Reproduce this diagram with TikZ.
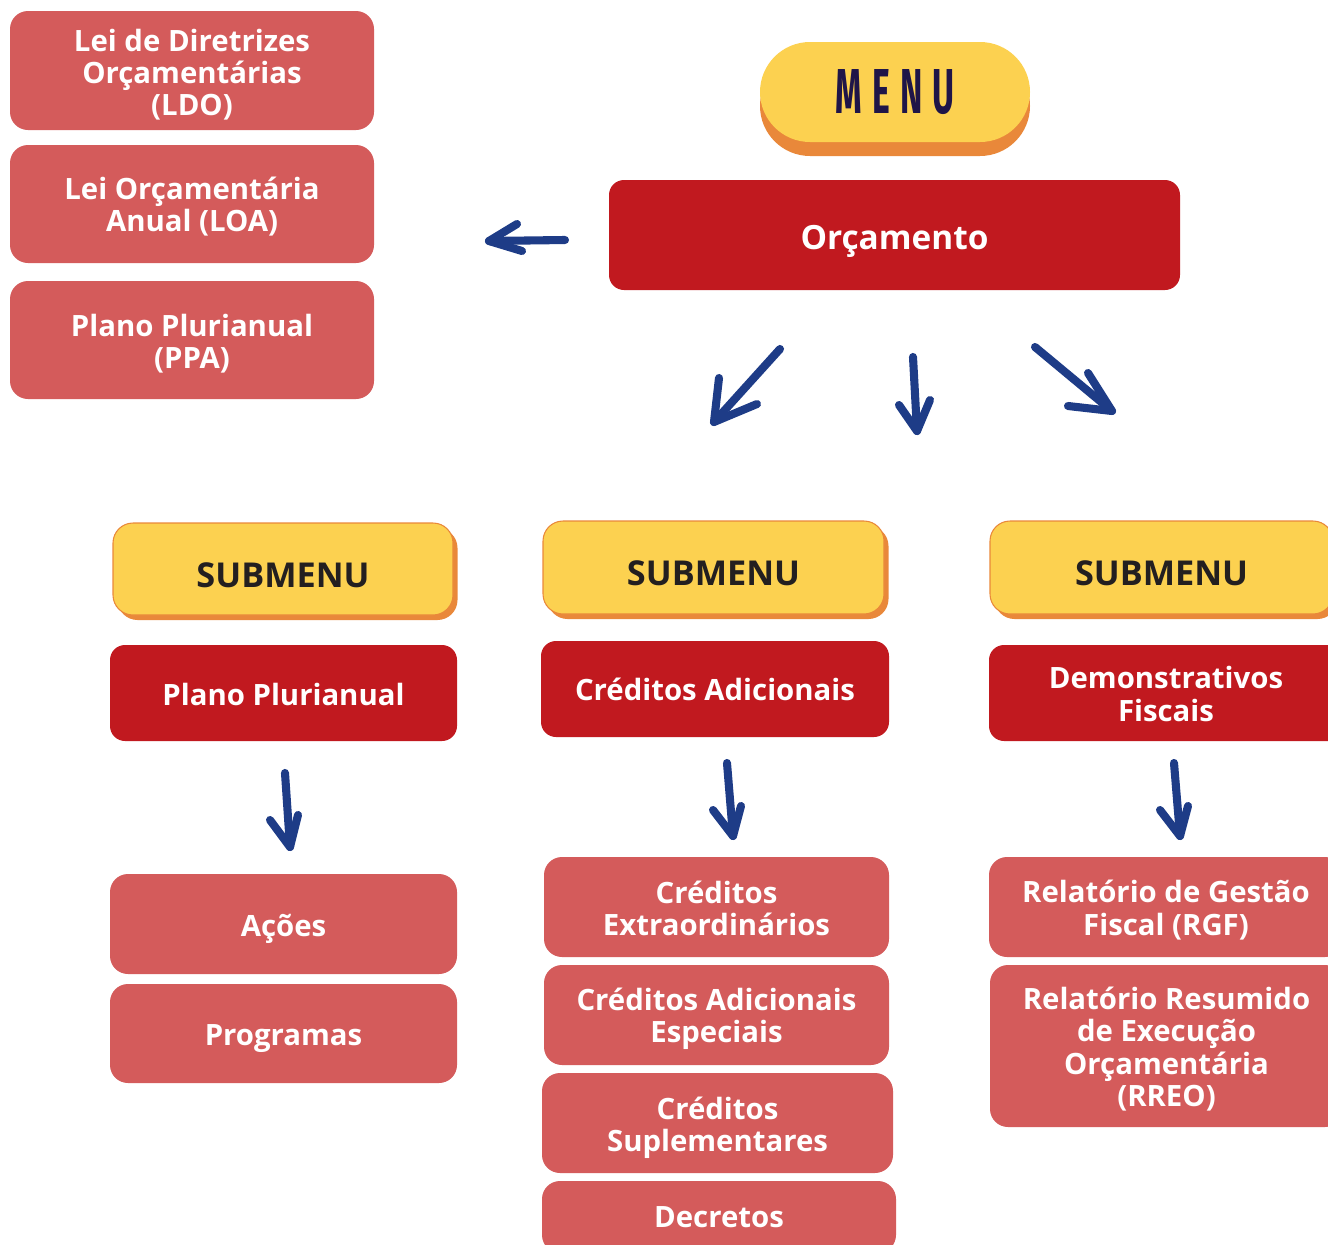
\documentclass[tikz,border=0pt]{standalone}
\usepackage{fontspec}
\setmainfont{Open Sans}
\newfontfamily\menufont[LetterSpace=30]{Fira Sans}
\usetikzlibrary{shadows}

\definecolor{darkred}{HTML}{C1191F}
\definecolor{lightred}{HTML}{D45B5B}
\definecolor{menuyellow}{HTML}{FCD150}
\definecolor{menuorange}{HTML}{E9883A}
\definecolor{arrowblue}{HTML}{1E3C87}
\definecolor{menuink}{HTML}{1F1548}
\definecolor{subink}{HTML}{231F20}

% box from pixel corners (x1,y1)-(x2,y2); its label sits #8 units below the centre
\newcommand\pbox[9]{%
  \node[#6, minimum width={(#4-#2)*0.02cm}, minimum height={(#5-#3)*0.02cm}]
    (#1) at ({(#2+#4)/2},{(#3+#5)/2}) {};
  \node[#7] (#1-t) at ([yshift={-#8*0.02cm}]#1.center) {#9};}

\tikzset{
  base/.style={inner sep=0pt, outer sep=0pt},
  txt/.style={base, align=center, text=white,
    font=\fontsize{16.7}{18.3}\selectfont\bfseries},
  bigtxt/.style={txt, font=\fontsize{19}{21}\selectfont\bfseries},
  subtxt/.style={txt, text=subink, font=\fontsize{19.5}{21}\selectfont\bfseries},
  leaf/.style={base, fill=lightred, rounded corners=0.36cm},
  topic/.style={base, fill=darkred, rounded corners=0.3cm},
  subhead/.style={base, fill=menuyellow, draw=menuorange, line width=0.6pt,
    rounded corners=0.4cm,
    drop shadow={shadow xshift=0.09cm, shadow yshift=-0.1cm,
      fill=menuorange, opacity=1}},
  pill/.style={base, fill=menuyellow, rounded corners=1cm},
  handarrow/.style={draw=arrowblue, line width=4.6pt, line cap=round,
    line join=round},
}

\begin{document}
\begin{tikzpicture}[x=0.02cm, y=-0.02cm]
\useasboundingbox (0,0) rectangle (1328,1244);
\clip (0,0) rectangle (1328,1244);

% left column of laws
\pbox{ldo}{10}{11}{374}{130}{leaf}{txt}{4}{Lei de Diretrizes\\Orçamentárias\\(LDO)}
\pbox{loa}{10}{145}{374}{263}{leaf}{txt}{3}{Lei Orçamentária\\Anual (LOA)}
\pbox{ppa}{10}{281}{374}{399}{leaf}{txt}{4}{Plano Plurianual\\(PPA)}

% menu pill with its raised edge
\fill[menuorange, rounded corners=1cm] (760,56) rectangle (1030,156);
\pbox{menu}{760}{42}{1030}{142}{pill}{base}{0}
  {\resizebox{2.38cm}{0.88cm}{\color{menuink}\menufont\bfseries MENU}}

\pbox{orc}{609}{180}{1180}{290}{topic}{bigtxt}{6}{Orçamento}

% submenu headers
\pbox{sub1}{113}{523}{453}{615}{subhead}{subtxt}{6}{SUBMENU}
\pbox{sub2}{543}{521}{884}{614}{subhead}{subtxt}{6}{SUBMENU}
\pbox{sub3}{990}{521}{1333}{614}{subhead}{subtxt}{6}{SUBMENU}

% section titles
\pbox{ppl}{110}{645}{457}{741}{topic}{txt}{1}{Plano Plurianual}
\pbox{cad}{541}{641}{889}{737}{topic}{txt}{0}{Créditos Adicionais}
\pbox{dem}{989}{645}{1343}{741}{topic}{txt}{1}{Demonstrativos\\Fiscais}

% items
\pbox{aco}{110}{874}{457}{974}{leaf}{txt}{5}{Ações}
\pbox{pro}{110}{984}{457}{1083}{leaf}{txt}{5}{Programas}
\pbox{cex}{544}{857}{889}{957}{leaf}{txt}{1}{Créditos\\Extraordinários}
\pbox{cae}{544}{965}{889}{1065}{leaf}{txt}{4}{Créditos Adicionais\\Especiais}
\pbox{csu}{542}{1073}{893}{1173}{leaf}{txt}{5}{Créditos\\Suplementares}
\pbox{dec}{542}{1181}{896}{1253}{leaf}{txt}{0}{Decretos}
\pbox{rgf}{989}{857}{1343}{957}{leaf}{txt}{3}{Relatório de Gestão\\Fiscal (RGF)}
\pbox{rre}{990}{965}{1343}{1127}{leaf}{txt}{3}{Relatório Resumido\\de Execução\\Orçamentária\\(RREO)}

% hand-drawn arrows: start, tip and two barbs
\coordinate (l0) at (565,240); \coordinate (l1) at (489,241);
\coordinate (lb1) at (517,224); \coordinate (lb2) at (522,251);
\draw[handarrow] (l0) -- (l1); \draw[handarrow] (lb1) -- (l1) -- (lb2);

\coordinate (d0) at (780,349); \coordinate (d1) at (714,422);
\coordinate (db1) at (719,378); \coordinate (db2) at (757,404);
\draw[handarrow] (d0) -- (d1); \draw[handarrow] (db1) -- (d1) -- (db2);

\coordinate (m0) at (913,357); \coordinate (m1) at (917,431);
\coordinate (mb1) at (899,405); \coordinate (mb2) at (930,400);
\draw[handarrow] (m0) -- (m1); \draw[handarrow] (mb1) -- (m1) -- (mb2);

\coordinate (r0) at (1035,347); \coordinate (r1) at (1112,411);
\coordinate (rb1) at (1088,373); \coordinate (rb2) at (1068,406);
\draw[handarrow] (r0) -- (r1); \draw[handarrow] (rb1) -- (r1) -- (rb2);

\coordinate (p0) at (285,773); \coordinate (p1) at (290,847);
\coordinate (pb1) at (270,820); \coordinate (pb2) at (298,815);
\draw[handarrow] (p0) -- (p1); \draw[handarrow] (pb1) -- (p1) -- (pb2);

\coordinate (c0) at (727,763); \coordinate (c1) at (733,836);
\coordinate (cb1) at (713,810); \coordinate (cb2) at (741,806);
\draw[handarrow] (c0) -- (c1); \draw[handarrow] (cb1) -- (c1) -- (cb2);

\coordinate (f0) at (1174,763); \coordinate (f1) at (1180,836);
\coordinate (fb1) at (1160,810); \coordinate (fb2) at (1188,806);
\draw[handarrow] (f0) -- (f1); \draw[handarrow] (fb1) -- (f1) -- (fb2);
\end{tikzpicture}
\end{document}
